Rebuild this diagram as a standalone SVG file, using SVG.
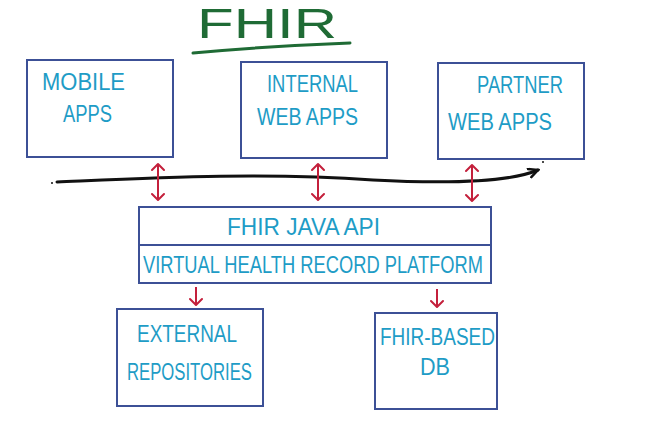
<svg xmlns="http://www.w3.org/2000/svg" width="647" height="424" viewBox="0 0 647 424">
<defs>
<marker id="chev" viewBox="0 0 12 14" refX="9" refY="7" markerWidth="12" markerHeight="14" markerUnits="userSpaceOnUse" orient="auto-start-reverse">
<path d="M3,1 L9,7 L3,13" fill="none" stroke="#c4203c" stroke-width="2" stroke-linecap="round" stroke-linejoin="round"/>
</marker>
<marker id="blk" viewBox="0 0 12 12" refX="10" refY="6" markerWidth="12" markerHeight="12" markerUnits="userSpaceOnUse" orient="auto">
<path d="M1,1 L10,6 L1,10" fill="none" stroke="#111" stroke-width="2.5" stroke-linecap="round"/>
</marker>
</defs>
<style>
.box{fill:#fff;stroke:#3c5096;stroke-width:2}
.t{font-family:"Liberation Sans",Arial,sans-serif;font-size:24px;fill:#1e9cc6}
.arr{fill:none;stroke:#c4203c;stroke-width:2}
</style>
<rect width="647" height="424" fill="#fff"/>
<g id="title">
<text x="197" y="38" font-family="Liberation Sans,Arial,sans-serif" font-size="42" fill="#1f6b35" textLength="140" lengthAdjust="spacingAndGlyphs">FHIR</text>
<path d="M193,53 Q270,46 350,43" fill="none" stroke="#1f6b35" stroke-width="3" stroke-linecap="round"/>
</g>
<g id="connectors">
<path d="M57,182 C150,178 260,172 373,180 C450,184 510,182 538,170" fill="none" stroke="#111" stroke-width="3" stroke-linecap="round" marker-end="url(#blk)"/>
<circle cx="52" cy="183" r="1" fill="#111"/>
<circle cx="543" cy="162" r="1" fill="#111"/>
<line class="arr" x1="158" y1="164" x2="158" y2="200" marker-start="url(#chev)" marker-end="url(#chev)"/>
<line class="arr" x1="318" y1="164" x2="318" y2="200" marker-start="url(#chev)" marker-end="url(#chev)"/>
<line class="arr" x1="472" y1="165" x2="472" y2="201" marker-start="url(#chev)" marker-end="url(#chev)"/>
<line class="arr" x1="196" y1="287" x2="196" y2="305" marker-end="url(#chev)"/>
<line class="arr" x1="437" y1="289" x2="437" y2="307" marker-end="url(#chev)"/>
</g>
<g id="mobile">
<rect class="box" x="27" y="60" width="146" height="97"/>
<text class="t" x="42" y="90" textLength="83" lengthAdjust="spacingAndGlyphs">MOBILE</text>
<text class="t" x="63" y="122" textLength="49" lengthAdjust="spacingAndGlyphs">APPS</text>
</g>
<g id="internal">
<rect class="box" x="241" y="62" width="146" height="96"/>
<text class="t" x="267" y="92" textLength="91" lengthAdjust="spacingAndGlyphs">INTERNAL</text>
<text class="t" x="257" y="125" textLength="101" lengthAdjust="spacingAndGlyphs">WEB APPS</text>
</g>
<g id="partner">
<rect class="box" x="438" y="63" width="146" height="96"/>
<text class="t" x="477" y="93" textLength="86" lengthAdjust="spacingAndGlyphs">PARTNER</text>
<text class="t" x="448" y="130" textLength="104" lengthAdjust="spacingAndGlyphs">WEB APPS</text>
</g>
<g id="api">
<rect class="box" x="139" y="207" width="352" height="38"/>
<text class="t" x="227" y="235" textLength="153" lengthAdjust="spacingAndGlyphs">FHIR JAVA API</text>
</g>
<g id="platform">
<rect class="box" x="139" y="245" width="352" height="38"/>
<text class="t" x="143" y="273" textLength="340" lengthAdjust="spacingAndGlyphs">VIRTUAL HEALTH RECORD PLATFORM</text>
</g>
<g id="external">
<rect class="box" x="117" y="309" width="146" height="97"/>
<text class="t" x="137" y="342" textLength="100" lengthAdjust="spacingAndGlyphs">EXTERNAL</text>
<text class="t" x="127" y="380" textLength="125" lengthAdjust="spacingAndGlyphs">REPOSITORIES</text>
</g>
<g id="db">
<rect class="box" x="375" y="313" width="122" height="96"/>
<text class="t" x="380" y="345" textLength="115" lengthAdjust="spacingAndGlyphs">FHIR-BASED</text>
<text class="t" x="420" y="375" textLength="30" lengthAdjust="spacingAndGlyphs">DB</text>
</g>
</svg>
